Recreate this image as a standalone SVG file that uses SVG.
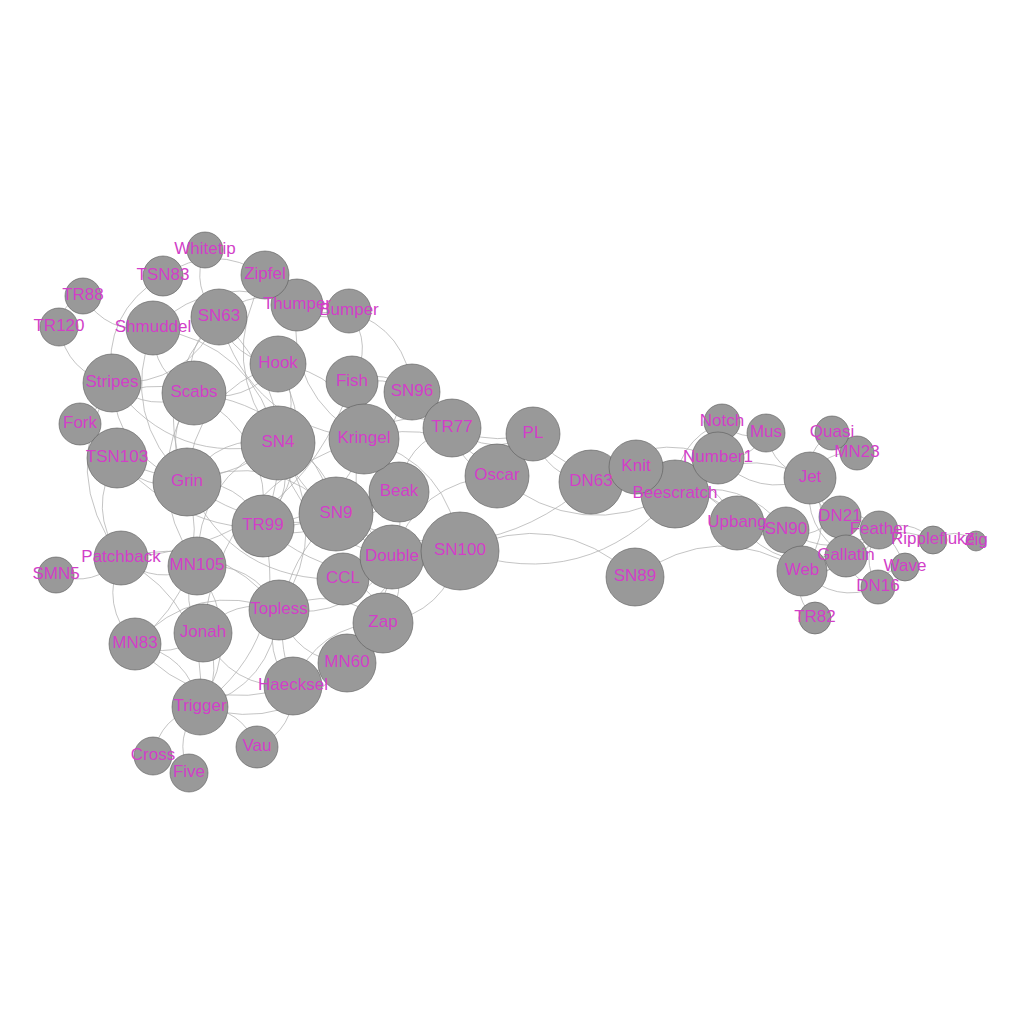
<svg xmlns="http://www.w3.org/2000/svg" width="1024" height="1024" viewBox="0 0 1024 1024">
<style>
.e path{fill:none;stroke:#aaaaaa;stroke-width:0.7}
.n circle{fill:#999999;stroke:#5a5a5a;stroke-width:0.6}
.l text{font-family:"Liberation Sans",Arial,sans-serif;font-size:17px;fill:#D23FC8;text-anchor:middle}
</style>
<rect width="1024" height="1024" fill="#ffffff"/>
<g class="e" id="edges">
<path d="M343 579Q360.2 551.7 392 557"/>
<path d="M878 587Q859.5 558.2 879 530"/>
<path d="M840 517Q863.8 510.5 879 530"/>
<path d="M399 492Q338.8 452.7 352 382"/>
<path d="M349 311Q374.2 345.5 352 382"/>
<path d="M878 587Q851.7 582.2 846 556"/>
<path d="M840 517Q856 534.5 846 556"/>
<path d="M879 530Q871.2 554 846 556"/>
<path d="M399 492Q289.7 557.7 187 482"/>
<path d="M343 579Q232.7 582.5 187 482"/>
<path d="M399 492Q410.7 624.3 293 686"/>
<path d="M187 482Q193.2 392.7 278 364"/>
<path d="M675 494Q737.2 441 810 478"/>
<path d="M840 517Q812 507.5 810 478"/>
<path d="M879 530Q827.2 527 810 478"/>
<path d="M846 556Q802 529 810 478"/>
<path d="M293 686Q230.3 689.5 203 633"/>
<path d="M675 494Q646.5 493.5 636 467"/>
<path d="M591 482Q608.5 459.5 636 467"/>
<path d="M392 557Q338.7 507.3 364 439"/>
<path d="M278 364Q346 372.8 364 439"/>
<path d="M203 633Q218.8 482.3 364 439"/>
<path d="M203 633Q177.7 601.5 197 566"/>
<path d="M810 478Q825.2 449.8 857 453"/>
<path d="M187 482Q215 580.3 135 644"/>
<path d="M293 686Q200 717.7 135 644"/>
<path d="M203 633Q172.7 661.2 135 644"/>
<path d="M810 478Q773 470.2 766 433"/>
<path d="M675 494Q674.5 442.3 722 422"/>
<path d="M766 433Q740.3 442.2 722 422"/>
<path d="M675 494Q684.5 461.7 718 458"/>
<path d="M591 482Q646.5 427.7 718 458"/>
<path d="M810 478Q757.3 498.7 718 458"/>
<path d="M766 433Q750.3 461.5 718 458"/>
<path d="M722 422Q732 441.3 718 458"/>
<path d="M675 494Q580 544.3 497 476"/>
<path d="M392 557Q417.5 481.5 497 476"/>
<path d="M364 439Q442.8 413.2 497 476"/>
<path d="M352 382Q295.2 547 121 558"/>
<path d="M197 566Q156.3 587.3 121 558"/>
<path d="M135 644Q99.3 605.7 121 558"/>
<path d="M591 482Q546 477.3 533 434"/>
<path d="M636 467Q573.5 484.8 533 434"/>
<path d="M497 476Q501 443 533 434"/>
<path d="M810 478Q806 448.2 832 433"/>
<path d="M879 530Q909.3 517 933 540"/>
<path d="M846 556Q884.2 519 933 540"/>
<path d="M80 424Q126.7 370.5 194 393"/>
<path d="M187 482Q160.8 435.2 194 393"/>
<path d="M278 364Q245.7 406.5 194 393"/>
<path d="M197 566Q137.8 480.5 194 393"/>
<path d="M187 482Q118.7 416.3 153 328"/>
<path d="M194 393Q151.8 374.2 153 328"/>
<path d="M121 558Q94.2 588.2 56 575"/>
<path d="M675 494Q586.5 594.2 460 551"/>
<path d="M364 439Q449.3 463 460 551"/>
<path d="M347 663Q366.2 569.3 460 551"/>
<path d="M392 557Q297 538 278 443"/>
<path d="M187 482Q219.5 432.2 278 443"/>
<path d="M278 364Q304.3 403.5 278 443"/>
<path d="M197 566Q196.5 477.5 278 443"/>
<path d="M153 328Q253.8 343.8 278 443"/>
<path d="M460 551Q333 557.7 278 443"/>
<path d="M187 482Q148 388.8 219 317"/>
<path d="M278 364Q232.8 360.2 219 317"/>
<path d="M364 439Q250.8 426.3 219 317"/>
<path d="M194 393Q181.2 346.7 219 317"/>
<path d="M460 551Q556.2 505.7 635 577"/>
<path d="M399 492Q374.8 524 336 514"/>
<path d="M591 482Q474.2 583 336 514"/>
<path d="M187 482Q272.2 448.3 336 514"/>
<path d="M293 686Q257.2 585.7 336 514"/>
<path d="M194 393Q305.3 406.2 336 514"/>
<path d="M460 551Q385.7 573.8 336 514"/>
<path d="M278 443Q330.7 459.2 336 514"/>
<path d="M675 494Q742.5 475 786 530"/>
<path d="M879 530Q832.5 561 786 530"/>
<path d="M846 556Q807.3 563 786 530"/>
<path d="M399 492Q372.2 437.7 412 392"/>
<path d="M349 311Q407.5 330.5 412 392"/>
<path d="M352 382Q385.3 367 412 392"/>
<path d="M533 434Q458.5 453.3 412 392"/>
<path d="M187 482Q116.5 457.5 112 383"/>
<path d="M121 558Q58.2 473.5 112 383"/>
<path d="M194 393Q149.7 415.3 112 383"/>
<path d="M278 443Q175 468.3 112 383"/>
<path d="M219 317Q187.5 385.7 112 383"/>
<path d="M349 311Q321 325.3 297 305"/>
<path d="M364 439Q285.8 394.3 297 305"/>
<path d="M153 328Q217.3 268.5 297 305"/>
<path d="M219 317Q254 285 297 305"/>
<path d="M392 557Q353.2 621.2 279 610"/>
<path d="M293 686Q260.7 652.7 279 610"/>
<path d="M203 633Q233.3 596.2 279 610"/>
<path d="M197 566Q252.7 560.7 279 610"/>
<path d="M347 663Q295.3 659.2 279 610"/>
<path d="M135 644Q195.7 579 279 610"/>
<path d="M121 558Q217.3 531.3 279 610"/>
<path d="M278 443Q334.2 526.2 279 610"/>
<path d="M112 383Q66.8 372.7 59 327"/>
<path d="M399 492Q404.2 442.3 452 428"/>
<path d="M352 382Q417.3 371.7 452 428"/>
<path d="M364 439Q404.3 404.2 452 428"/>
<path d="M497 476Q458.5 467 452 428"/>
<path d="M533 434Q490.5 458 452 428"/>
<path d="M412 392Q444 396.7 452 428"/>
<path d="M153 328Q107.3 335.3 83 296"/>
<path d="M59 327Q60.7 303.5 83 296"/>
<path d="M187 482Q239.7 478.7 263 526"/>
<path d="M278 364Q324.5 450 263 526"/>
<path d="M364 439Q342.5 516.2 263 526"/>
<path d="M194 393Q272.8 436.5 263 526"/>
<path d="M460 551Q353.2 604.2 263 526"/>
<path d="M278 443Q298.2 489.5 263 526"/>
<path d="M219 317Q310.7 406.8 263 526"/>
<path d="M336 514Q303.5 544.3 263 526"/>
<path d="M153 756Q160.2 715.8 200 707"/>
<path d="M189 773Q172.5 736.3 200 707"/>
<path d="M203 633Q226.2 671 200 707"/>
<path d="M197 566Q245.5 635.5 200 707"/>
<path d="M347 663Q288.2 734 200 707"/>
<path d="M135 644Q188.5 653.8 200 707"/>
<path d="M121 558Q210.2 606.2 200 707"/>
<path d="M279 610Q271.8 684.8 200 707"/>
<path d="M263 526Q291.8 637.5 200 707"/>
<path d="M187 482Q144 493.3 117 458"/>
<path d="M121 558Q85.7 509.3 117 458"/>
<path d="M278 443Q202.5 504.2 117 458"/>
<path d="M336 514Q207.8 559 117 458"/>
<path d="M112 383Q101.8 312.5 163 276"/>
<path d="M675 494Q715.7 487.8 737 523"/>
<path d="M840 517Q790.5 554.3 737 523"/>
<path d="M591 482Q677.7 453.8 737 523"/>
<path d="M846 556Q780.5 575.8 737 523"/>
<path d="M636 467Q705.2 461.3 737 523"/>
<path d="M786 530Q759.2 542.8 737 523"/>
<path d="M293 686Q295.3 728.5 257 747"/>
<path d="M200 707Q241.8 708 257 747"/>
<path d="M878 587Q884.8 568 905 567"/>
<path d="M840 517Q889.2 520.3 905 567"/>
<path d="M878 587Q834.7 604.3 802 571"/>
<path d="M840 517Q839 556.7 802 571"/>
<path d="M879 530Q854.2 576.2 802 571"/>
<path d="M846 556Q829 578.2 802 571"/>
<path d="M810 478Q837 527.2 802 571"/>
<path d="M635 577Q716.5 518.3 802 571"/>
<path d="M786 530Q807.7 545.2 802 571"/>
<path d="M815 618Q792.8 598.8 802 571"/>
<path d="M737 523Q785.5 525.3 802 571"/>
<path d="M219 317Q189.7 288.2 205 250"/>
<path d="M343 579Q377.7 587.7 383 623"/>
<path d="M392 557Q409.5 593 383 623"/>
<path d="M293 686Q317 624.5 383 623"/>
<path d="M460 551Q445.5 612.7 383 623"/>
<path d="M279 610Q335.3 581.8 383 623"/>
<path d="M933 540Q954.8 526.2 976 541"/>
<path d="M349 311Q295 321 265 275"/>
<path d="M278 443Q215.5 363.3 265 275"/>
<path d="M163 276Q213.7 241.5 265 275"/>
</g>
<g class="n">
<g id="Beak"><circle cx="399" cy="492" r="30"/></g>
<g id="Beescratch"><circle cx="675" cy="494" r="34"/></g>
<g id="Bumper"><circle cx="349" cy="311" r="22"/></g>
<g id="CCL"><circle cx="343" cy="579" r="26"/></g>
<g id="Cross"><circle cx="153" cy="756" r="19"/></g>
<g id="DN16"><circle cx="878" cy="587" r="17"/></g>
<g id="DN21"><circle cx="840" cy="517" r="21"/></g>
<g id="DN63"><circle cx="591" cy="482" r="32"/></g>
<g id="Double"><circle cx="392" cy="557" r="32"/></g>
<g id="Feather"><circle cx="879" cy="530" r="19"/></g>
<g id="Fish"><circle cx="352" cy="382" r="26"/></g>
<g id="Five"><circle cx="189" cy="773" r="19"/></g>
<g id="Fork"><circle cx="80" cy="424" r="21"/></g>
<g id="Gallatin"><circle cx="846" cy="556" r="21"/></g>
<g id="Grin"><circle cx="187" cy="482" r="34"/></g>
<g id="Haecksel"><circle cx="293" cy="686" r="29"/></g>
<g id="Hook"><circle cx="278" cy="364" r="28"/></g>
<g id="Jet"><circle cx="810" cy="478" r="26"/></g>
<g id="Jonah"><circle cx="203" cy="633" r="29"/></g>
<g id="Knit"><circle cx="636" cy="467" r="27"/></g>
<g id="Kringel"><circle cx="364" cy="439" r="35"/></g>
<g id="MN105"><circle cx="197" cy="566" r="29"/></g>
<g id="MN23"><circle cx="857" cy="453" r="17"/></g>
<g id="MN60"><circle cx="347" cy="663" r="29"/></g>
<g id="MN83"><circle cx="135" cy="644" r="26"/></g>
<g id="Mus"><circle cx="766" cy="433" r="19"/></g>
<g id="Notch"><circle cx="722" cy="422" r="18"/></g>
<g id="Number1"><circle cx="718" cy="458" r="26"/></g>
<g id="Oscar"><circle cx="497" cy="476" r="32"/></g>
<g id="Patchback"><circle cx="121" cy="558" r="27"/></g>
<g id="PL"><circle cx="533" cy="434" r="27"/></g>
<g id="Quasi"><circle cx="832" cy="433" r="17"/></g>
<g id="Ripplefluke"><circle cx="933" cy="540" r="14"/></g>
<g id="Scabs"><circle cx="194" cy="393" r="32"/></g>
<g id="Shmuddel"><circle cx="153" cy="328" r="27"/></g>
<g id="SMN5"><circle cx="56" cy="575" r="18"/></g>
<g id="SN100"><circle cx="460" cy="551" r="39"/></g>
<g id="SN4"><circle cx="278" cy="443" r="37"/></g>
<g id="SN63"><circle cx="219" cy="317" r="28"/></g>
<g id="SN89"><circle cx="635" cy="577" r="29"/></g>
<g id="SN9"><circle cx="336" cy="514" r="37"/></g>
<g id="SN90"><circle cx="786" cy="530" r="23"/></g>
<g id="SN96"><circle cx="412" cy="392" r="28"/></g>
<g id="Stripes"><circle cx="112" cy="383" r="29"/></g>
<g id="Thumper"><circle cx="297" cy="305" r="26"/></g>
<g id="Topless"><circle cx="279" cy="610" r="30"/></g>
<g id="TR120"><circle cx="59" cy="327" r="19"/></g>
<g id="TR77"><circle cx="452" cy="428" r="29"/></g>
<g id="TR82"><circle cx="815" cy="618" r="16"/></g>
<g id="TR88"><circle cx="83" cy="296" r="18"/></g>
<g id="TR99"><circle cx="263" cy="526" r="31"/></g>
<g id="Trigger"><circle cx="200" cy="707" r="28"/></g>
<g id="TSN103"><circle cx="117" cy="458" r="30"/></g>
<g id="TSN83"><circle cx="163" cy="276" r="20"/></g>
<g id="Upbang"><circle cx="737" cy="523" r="27"/></g>
<g id="Vau"><circle cx="257" cy="747" r="21"/></g>
<g id="Wave"><circle cx="905" cy="567" r="14"/></g>
<g id="Web"><circle cx="802" cy="571" r="25"/></g>
<g id="Whitetip"><circle cx="205" cy="250" r="18"/></g>
<g id="Zap"><circle cx="383" cy="623" r="30"/></g>
<g id="Zig"><circle cx="976" cy="541" r="10"/></g>
<g id="Zipfel"><circle cx="265" cy="275" r="24"/></g>
</g>
<g class="l" id="labels" transform="translate(0,-2)">
<text x="399" y="498">Beak</text>
<text x="675" y="500">Beescratch</text>
<text x="349" y="317">Bumper</text>
<text x="343" y="585">CCL</text>
<text x="153" y="762">Cross</text>
<text x="878" y="593">DN16</text>
<text x="840" y="523">DN21</text>
<text x="591" y="488">DN63</text>
<text x="392" y="563">Double</text>
<text x="879" y="536">Feather</text>
<text x="352" y="388">Fish</text>
<text x="189" y="779">Five</text>
<text x="80" y="430">Fork</text>
<text x="846" y="562">Gallatin</text>
<text x="187" y="488">Grin</text>
<text x="293" y="692">Haecksel</text>
<text x="278" y="370">Hook</text>
<text x="810" y="484">Jet</text>
<text x="203" y="639">Jonah</text>
<text x="636" y="473">Knit</text>
<text x="364" y="445">Kringel</text>
<text x="197" y="572">MN105</text>
<text x="857" y="459">MN23</text>
<text x="347" y="669">MN60</text>
<text x="135" y="650">MN83</text>
<text x="766" y="439">Mus</text>
<text x="722" y="428">Notch</text>
<text x="718" y="464">Number1</text>
<text x="497" y="482">Oscar</text>
<text x="121" y="564">Patchback</text>
<text x="533" y="440">PL</text>
<text x="832" y="439">Quasi</text>
<text x="933" y="546">Ripplefluke</text>
<text x="194" y="399">Scabs</text>
<text x="153" y="334">Shmuddel</text>
<text x="56" y="581">SMN5</text>
<text x="460" y="557">SN100</text>
<text x="278" y="449">SN4</text>
<text x="219" y="323">SN63</text>
<text x="635" y="583">SN89</text>
<text x="336" y="520">SN9</text>
<text x="786" y="536">SN90</text>
<text x="412" y="398">SN96</text>
<text x="112" y="389">Stripes</text>
<text x="297" y="311">Thumper</text>
<text x="279" y="616">Topless</text>
<text x="59" y="333">TR120</text>
<text x="452" y="434">TR77</text>
<text x="815" y="624">TR82</text>
<text x="83" y="302">TR88</text>
<text x="263" y="532">TR99</text>
<text x="200" y="713">Trigger</text>
<text x="117" y="464">TSN103</text>
<text x="163" y="282">TSN83</text>
<text x="737" y="529">Upbang</text>
<text x="257" y="753">Vau</text>
<text x="905" y="573">Wave</text>
<text x="802" y="577">Web</text>
<text x="205" y="256">Whitetip</text>
<text x="383" y="629">Zap</text>
<text x="976" y="547">Zig</text>
<text x="265" y="281">Zipfel</text>
</g>
</svg>
